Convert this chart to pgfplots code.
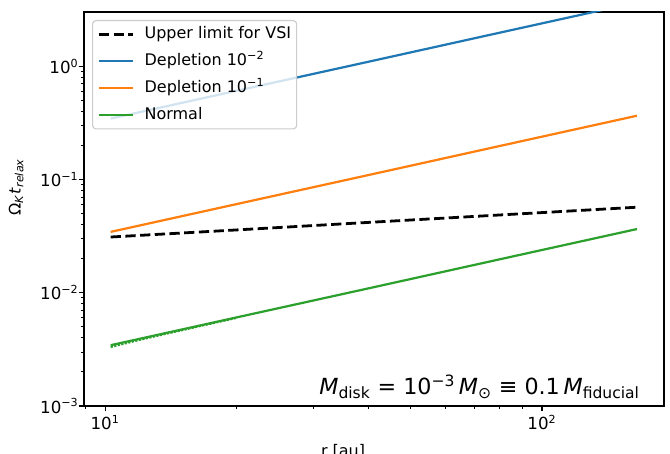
\documentclass[border=0pt]{standalone}
\usepackage{fontspec}
\setmainfont{DejaVu Sans}
\usepackage{pgfplots}
\pgfplotsset{compat=1.18}
\definecolor{tabblue}{HTML}{1F77B4}
\definecolor{taborange}{HTML}{FF7F0E}
\definecolor{tabgreen}{HTML}{2CA02C}
\newcommand{\logtick}[1]{\pgfmathtruncatemacro{\myexp}{round(#1)}10\textsuperscript{\ifnum\myexp<0 −\the\numexpr-\myexp\relax\else\myexp\fi}}
\begin{document}
\begin{tikzpicture}
\path[use as bounding box] (0pt,0pt) rectangle (482.4pt,326.88pt);
\begin{axis}[
  at={(60.48pt,34.56pt)}, anchor=south west,
  scale only axis, width=417.6pt, height=283.68pt,
  xmode=log, ymode=log, log basis x=10, log basis y=10,
  xmin=8.95, xmax=190.3, ymin=1e-3, ymax=3,
  axis line style={line width=0.8pt},
  tick align=outside, tick pos=left,
  major tick length=3.8pt, minor tick length=2.2pt,
  every major tick/.style={black, line width=0.8pt},
  every minor tick/.style={black, line width=0.6pt},
  xticklabel={\logtick{\tick}}, yticklabel={\logtick{\tick}},
  ticklabel style={font=\fontsize{12}{14}\selectfont},
  yticklabel style={inner sep=0pt, xshift=0pt},
  xticklabel style={inner sep=0pt, yshift=-3pt},
  xlabel={r [au]},
  xlabel style={at={(axis description cs:0.4466,-0.0838)}, anchor=north, font=\fontsize{11.5}{13}\selectfont},
  ylabel={Ω\textsubscript{\textit{K}}\textit{t}\textsubscript{\textit{relax}}},
  ylabel style={at={(axis description cs:-0.117,0.556)}, anchor=center, rotate=0, font=\fontsize{11.5}{13}\selectfont},
  legend cell align=left,
  legend image code/.code={\draw[#1,line cap=butt] (0pt,0pt) -- (24.5pt,0pt);},
  legend style={at={(0.0138,0.9797)}, anchor=north west, draw=black!20, line width=0.8pt,
    rounded corners=2.5pt, fill=white, fill opacity=0.8, draw opacity=1, text opacity=1,
    font=\fontsize{11.5}{13}\selectfont, row sep=8.6pt, column sep=7pt,
    inner xsep=3.5pt, inner ysep=4.5pt,
    nodes={inner xsep=0.5pt, inner ysep=0pt, text height=8.3pt, text depth=2.5pt}},
]
\addplot[black, line width=2pt, dash pattern=on 7.4pt off 3.2pt, line cap=butt] coordinates {
  (10.3,0.0310) (20,0.0358) (40,0.0417) (80,0.0485) (165,0.0568)};
\addlegendentry{Upper limit for VSI}
\addplot[tabblue, line width=1.6pt] coordinates {
  (10.3,0.344) (20,0.605) (40,1.09) (80,1.97) (165,3.645)};
\addlegendentry{Depletion 10\textsuperscript{−2}}
\addplot[taborange, line width=1.6pt] coordinates {
  (10.3,0.0344) (20,0.0605) (40,0.109) (80,0.197) (165,0.3645)};
\addlegendentry{Depletion 10\textsuperscript{−1}}
\addplot[tabgreen, line width=1.6pt] coordinates {
  (10.3,0.00344) (20,0.00605) (40,0.0109) (80,0.0197) (165,0.03645)};
\addlegendentry{Normal}
\addplot[tabgreen, line width=1.6pt, densely dotted, forget plot] coordinates {
  (10.3,0.00332) (12,0.00384) (14,0.00440) (16.5,0.00508) (20,0.00600)};
\node[anchor=base east, inner sep=0pt, font=\fontsize{16}{18}\selectfont] at (axis description cs:0.9586,0.028)
  {\textit{M}\textsubscript{disk} = 10\textsuperscript{−3}\,\textit{M}\textsubscript{⊙} ≡ 0.1\,\textit{M}\textsubscript{fiducial}};
\end{axis}
\end{tikzpicture}
\end{document}
